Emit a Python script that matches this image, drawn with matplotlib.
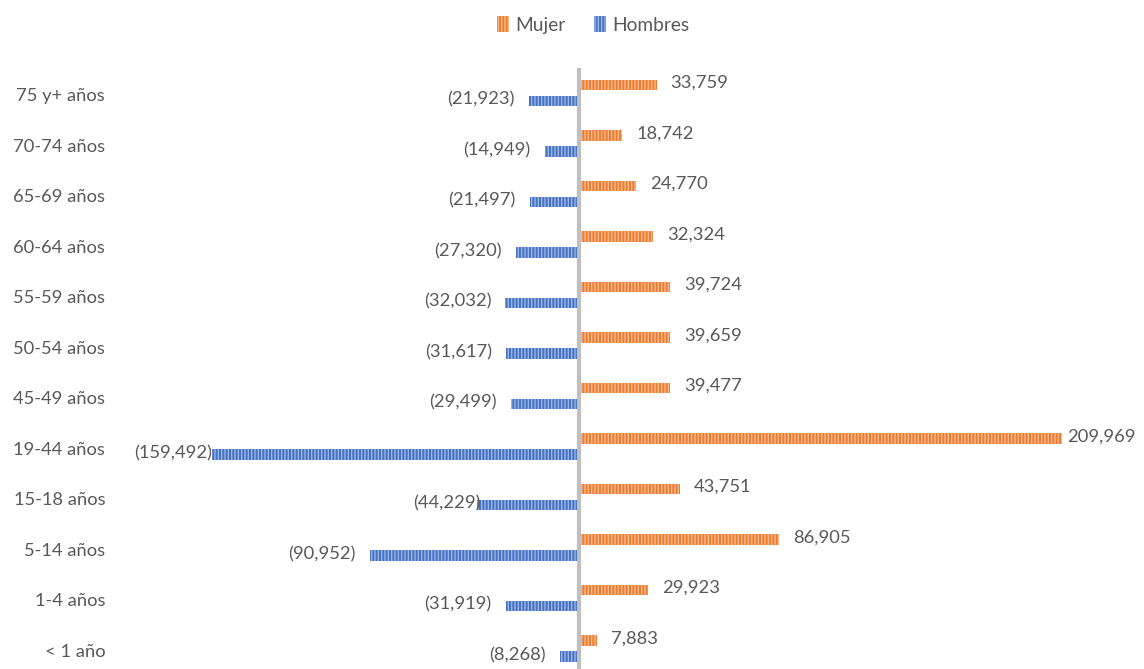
import matplotlib
matplotlib.use("Agg")
import matplotlib.pyplot as plt
import matplotlib.transforms as mtransforms
from matplotlib.patches import Patch

categories = ["75 y+ años", "70-74 años", "65-69 años", "60-64 años", "55-59 años",
              "50-54 años", "45-49 años", "19-44 años", "15-18 años", "5-14 años",
              "1-4 años", "< 1 año"]
mujer = [33759, 18742, 24770, 32324, 39724, 39659, 39477, 209969, 43751, 86905, 29923, 7883]
hombres = [-21923, -14949, -21497, -27320, -32032, -31617, -29499, -159492, -44229, -90952, -31919, -8268]

plt.rcParams['font.family'] = ['Lato', 'DejaVu Sans']
TXT = '#595959'
ORANGE = '#ED7D31'
BLUE = '#4472C4'
plt.rcParams['hatch.linewidth'] = 1.0

W, H = 1144, 669
fig = plt.figure(figsize=(W / 100, H / 100), dpi=100)
ax = fig.add_axes([110 / W, 0, (W - 110) / W, (669 - 68) / H])

pxu = 0.0023  # pixels per unit
x0 = 579
ax.set_xlim(-(x0 - 110) / pxu, (W - x0) / pxu)
ax.set_ylim(11.406, -0.495)

n = len(categories)
ys = list(range(n))
off = 8 / 50.5
hgt = 10.5 / 50.5

ax.barh([y - off for y in ys], mujer, height=hgt, color=ORANGE, edgecolor='#F6B98E',
        linewidth=0, hatch='|||||', zorder=2)
ax.barh([y + off for y in ys], hombres, height=hgt, color=BLUE, edgecolor='#9DB5E2',
        linewidth=0, hatch='|||||', zorder=2)

ax.axvline(0, color='#BFBFBF', lw=3, zorder=3)

fs = 13.2
for i, v in enumerate(mujer):
    dx = 14 if v < 200000 else 5
    ax.annotate(f"{v:,}", (v, i - off), xytext=(dx * 0.72, 1.5), textcoords='offset points',
                ha='left', va='center', fontsize=fs, color=TXT)
for i, v in enumerate(hombres):
    if v == -159492:
        dx = 0
    elif v == -44229:
        dx = 3
    else:
        dx = -14
    ax.annotate(f"({-v:,})", (v, i + off), xytext=(dx * 0.72, 1), textcoords='offset points',
                ha='right', va='center', fontsize=fs, color=TXT)

ax.set_yticks(ys)
ax.set_yticklabels(categories, fontsize=fs, color=TXT)
ax.tick_params(axis='y', length=0, pad=3.5)
shift = mtransforms.ScaledTranslation(0, -2 / 100, fig.dpi_scale_trans)
for lab in ax.get_yticklabels():
    lab.set_transform(lab.get_transform() + shift)
ax.set_xticks([])
for s in ax.spines.values():
    s.set_visible(False)

handles = [Patch(facecolor=ORANGE, edgecolor='#F6B98E', linewidth=0, hatch='|||||', label='Mujer'),
           Patch(facecolor=BLUE, edgecolor='#9DB5E2', linewidth=0, hatch='|||||', label='Hombres')]
fig.legend(handles=handles, loc='center', bbox_to_anchor=(593 / W, 1 - 25 / H), ncol=2,
           frameon=False, fontsize=13.8, labelcolor=TXT, handlelength=0.65, handleheight=0.9,
           handletextpad=0.3, columnspacing=1.5)

fig.savefig('out.png', dpi=100)
